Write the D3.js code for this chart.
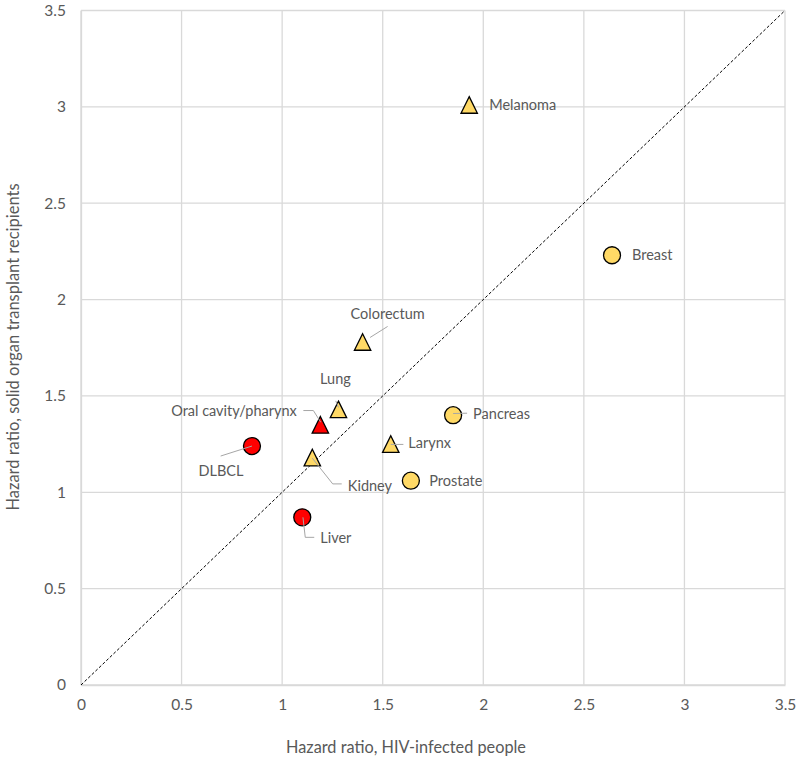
<!DOCTYPE html>
<html>
<head>
<meta charset="utf-8">
<script src="https://cdn.jsdelivr.net/npm/d3@7"></script>
<style>
  html, body { margin: 0; padding: 0; background: #fff; }
  svg { display: block; }
  text { font-family: Lato, "Open Sans", sans-serif; fill: #595959; }
</style>
</head>
<body>
<svg id="chart" width="800" height="762"></svg>
<script>
// ---- data ----
const cancers = ["Melanoma", "Breast", "Colorectum", "Lung", "Oral cavity/pharynx", "DLBCL", "Kidney", "Larynx", "Pancreas", "Prostate", "Liver"];
const hrHIV = [1.93, 2.64, 1.40, 1.28, 1.19, 0.85, 1.15, 1.54, 1.85, 1.64, 1.10];
const hrTransplant = [3.01, 2.23, 1.78, 1.43, 1.35, 1.24, 1.18, 1.25, 1.40, 1.06, 0.87];
const markerShape = ["triangle", "circle", "triangle", "triangle", "triangle", "circle", "triangle", "triangle", "circle", "circle", "circle"];
const markerGroup = ["yellow", "yellow", "yellow", "yellow", "red", "red", "yellow", "yellow", "yellow", "yellow", "red"];
const tickValues = [0, 0.5, 1, 1.5, 2, 2.5, 3, 3.5];
const xTitle = "Hazard ratio, HIV-infected people";
const yTitle = "Hazard ratio, solid organ transplant recipients";

// ---- label layout (pixel offsets from marker centre) ----
const labelLayout = {
  "Melanoma":            { dx: 20, dy: 0, anchor: "start", leader: null },
  "Breast":              { dx: 20, dy: 0, anchor: "start", leader: null },
  "Colorectum":          { dx: 25, dy: -28, anchor: "middle", leader: [[25, -15.5], [7.5, -4.5]] },
  "Lung":                { dx: -3, dy: -30, anchor: "middle", leader: [[-2.7, -8.5], [0, -2]] },
  "Oral cavity/pharynx": { dx: -23.5, dy: -13.5, anchor: "end", leader: [[-17, -14.3], [-7, -14.3], [0.4, -2.6]] },
  "DLBCL":               { dx: -31, dy: 25, anchor: "middle", leader: [[-31.3, 10], [0, 0]] },
  "Kidney":              { dx: 35.5, dy: 28.6, anchor: "start", leader: [[0, 0.6], [20.4, 26.3], [29.4, 26.3]] },
  "Larynx":              { dx: 17.6, dy: -1, anchor: "start", leader: [[0, 0.3], [12.6, 0.3]] },
  "Pancreas":            { dx: 20, dy: -1.7, anchor: "start", leader: [[0, -1.7], [14, -2]] },
  "Prostate":            { dx: 18.3, dy: 0, anchor: "start", leader: null },
  "Liver":               { dx: 18, dy: 21, anchor: "start", leader: [[0.7, 0], [3, 20], [12, 20]] }
};
const fillColor = { yellow: "#FFD966", red: "#FF0000" };

// ---- chart ----
const svg = d3.select("#chart");
const x = d3.scaleLinear().domain([0, 3.5]).range([81, 785]);
const y = d3.scaleLinear().domain([0, 3.5]).range([685, 10.5]);

const fmt = d => d3.format("~g")(d);

// grid
const grid = svg.append("g");
grid.selectAll("line.vx").data(tickValues).join("line")
  .attr("x1", d => x(d)).attr("x2", d => x(d))
  .attr("y1", y(0)).attr("y2", y(3.5))
  .attr("stroke", "#d9d9d9").attr("stroke-width", 1.3);
grid.selectAll("line.hy").data(tickValues).join("line")
  .attr("y1", d => y(d)).attr("y2", d => y(d))
  .attr("x1", x(0)).attr("x2", x(3.5))
  .attr("stroke", "#d9d9d9").attr("stroke-width", 1.3);

// axes (labels only, via d3 axis)
const xAxis = svg.append("g").attr("transform", `translate(0,${y(0)})`)
  .call(d3.axisBottom(x).tickValues(tickValues).tickFormat(fmt).tickSize(0).tickPadding(14));
const yAxis = svg.append("g").attr("transform", `translate(${x(0)},0)`)
  .call(d3.axisLeft(y).tickValues(tickValues).tickFormat(fmt).tickSize(0).tickPadding(15));
[xAxis, yAxis].forEach(a => {
  a.select(".domain").attr("stroke", "#d9d9d9").attr("stroke-width", 1.3);
  a.selectAll("text").style("font-family", "Lato, 'Open Sans', sans-serif")
    .style("font-size", "15.5px").attr("fill", "#595959");
});

// diagonal reference line
svg.append("line")
  .attr("x1", x(0)).attr("y1", y(0)).attr("x2", x(3.5)).attr("y2", y(3.5))
  .attr("stroke", "#000").attr("stroke-width", 1).attr("stroke-dasharray", "3,2");

// axis titles
svg.append("text").attr("x", 406).attr("y", 753).attr("text-anchor", "middle")
  .style("font-size", "16.3px").text(xTitle);
svg.append("text").attr("transform", "translate(19,347) rotate(-90)").attr("text-anchor", "middle")
  .style("font-size", "16.5px").text(yTitle);

// points
const pts = cancers.map((c, i) => ({ name: c, hx: hrHIV[i], hy: hrTransplant[i], shape: markerShape[i], group: markerGroup[i] }));
const tri = "M0,-8.3L8.2,8.3L-8.2,8.3Z";
const marks = svg.append("g").selectAll("g").data(pts).join("g")
  .attr("transform", d => `translate(${x(d.hx)},${y(d.hy)})`);
marks.each(function(d) {
  const g = d3.select(this);
  if (d.shape === "circle") {
    g.append("circle").attr("r", 8.5);
  } else {
    g.append("path").attr("d", tri);
  }
  g.selectChildren().attr("fill", fillColor[d.group]).attr("stroke", "#000").attr("stroke-width", 1.3);
});

// leader lines & labels
const lab = svg.append("g").selectAll("g").data(pts).join("g")
  .attr("transform", d => `translate(${x(d.hx)},${y(d.hy)})`);
lab.each(function(d) {
  const L = labelLayout[d.name];
  const g = d3.select(this);
  if (L.leader) {
    g.append("path").attr("d", d3.line()(L.leader))
      .attr("fill", "none").attr("stroke", "#a6a6a6").attr("stroke-width", 1);
  }
  g.append("text").attr("x", L.dx).attr("y", L.dy).attr("dy", "0.35em")
    .attr("text-anchor", L.anchor).style("font-size", "14.5px").text(d.name);
});
</script>
</body>
</html>
